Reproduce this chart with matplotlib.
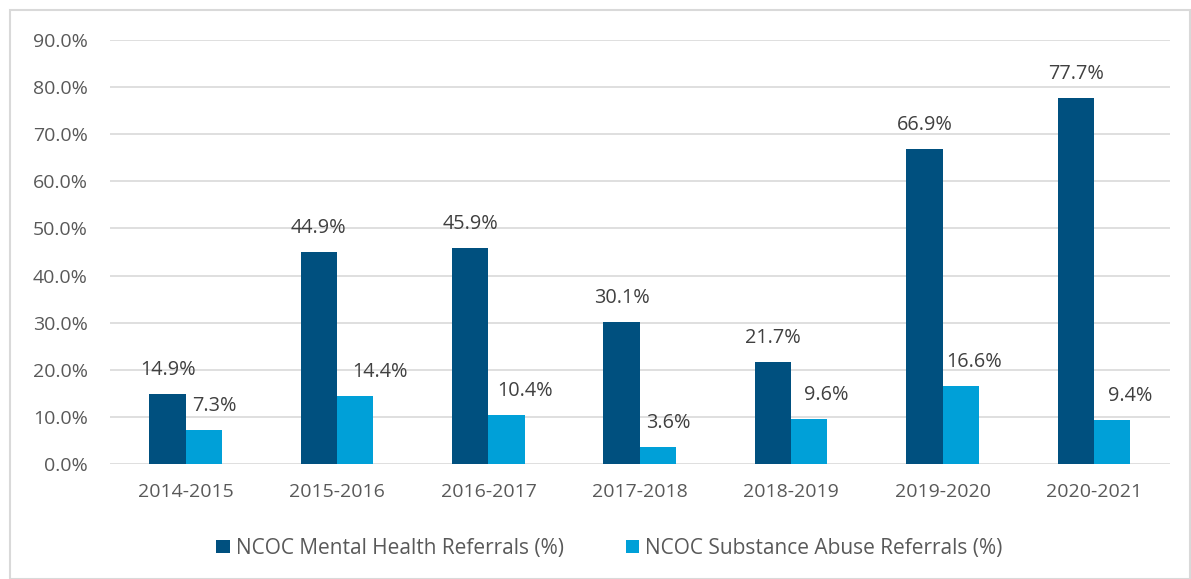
import matplotlib
matplotlib.use("Agg")
import matplotlib.pyplot as plt
import numpy as np
from matplotlib.patches import Rectangle

categories = ["2014-2015", "2015-2016", "2016-2017", "2017-2018", "2018-2019", "2019-2020", "2020-2021"]
mental_health = [14.9, 44.9, 45.9, 30.1, 21.7, 66.9, 77.7]
substance_abuse = [7.3, 14.4, 10.4, 3.6, 9.6, 16.6, 9.4]
series_names = ["NCOC Mental Health Referrals (%)", "NCOC Substance Abuse Referrals (%)"]
yticks = [0, 10, 20, 30, 40, 50, 60, 70, 80, 90]

# horizontal nudges (pixels) of the light-bar labels, as placed in the original
light_label_shift_px = [10, 25, 18.5, 10, 16.5, 13, 18.5]

dark = "#00507F"
light = "#00A0D8"
text_color = "#404040"
tick_color = "#595959"
plt.rcParams["font.family"] = ["Open Sans", "DejaVu Sans"]

fig = plt.figure(figsize=(11.91, 5.79), dpi=100)
ax = fig.add_axes([0.0924, 0.1986, 0.8896, 0.7323])

x = np.arange(len(categories))
w = 0.24
b1 = ax.bar(x - w / 2, mental_health, w, color=dark, label=series_names[0], zorder=3)
b2 = ax.bar(x + w / 2, substance_abuse, w, color=light, label=series_names[1], zorder=3)

px2pt = 72 / 100
for r, v in zip(b1, mental_health):
    ax.annotate(f"{v:.1f}%", (r.get_x() + r.get_width() / 2, v), xytext=(0, 19 * px2pt),
                textcoords="offset points", ha="center", va="baseline",
                fontsize=14.3, color=text_color)
for r, v, s in zip(b2, substance_abuse, light_label_shift_px):
    ax.annotate(f"{v:.1f}%", (r.get_x() + r.get_width() / 2, v), xytext=(s * px2pt, 19 * px2pt),
                textcoords="offset points", ha="center", va="baseline",
                fontsize=14.3, color=text_color)

ax.set_xlim(-0.5, len(categories) - 0.5)
ax.set_ylim(0, 90)
ax.set_yticks(yticks)
ax.set_yticklabels([f"{t:.1f}%" for t in yticks], fontsize=14, color=tick_color)
ax.set_xticks(x)
ax.set_xticklabels(categories, fontsize=14, color=tick_color)
ax.tick_params(axis="x", length=0, pad=14)
ax.tick_params(axis="y", length=0, pad=16)
ax.grid(axis="y", color="#D9D9D9", linewidth=1.2, zorder=0)
for s in ax.spines.values():
    s.set_visible(False)

leg = fig.legend(loc="center", bbox_to_anchor=(0.5118, 0.053), ncol=2, frameon=False,
                 prop={"size": 15}, handlelength=0.65, handleheight=0.65,
                 handletextpad=0.3, columnspacing=2.95)
for t in leg.get_texts():
    t.set_color(tick_color)

fig.patches.append(Rectangle((10 / 1191, 0), 1180 / 1191, 1 - 10 / 579, transform=fig.transFigure,
                             fill=False, edgecolor="#D9D9D9", linewidth=1.5))

fig.savefig("out.png", dpi=100)
